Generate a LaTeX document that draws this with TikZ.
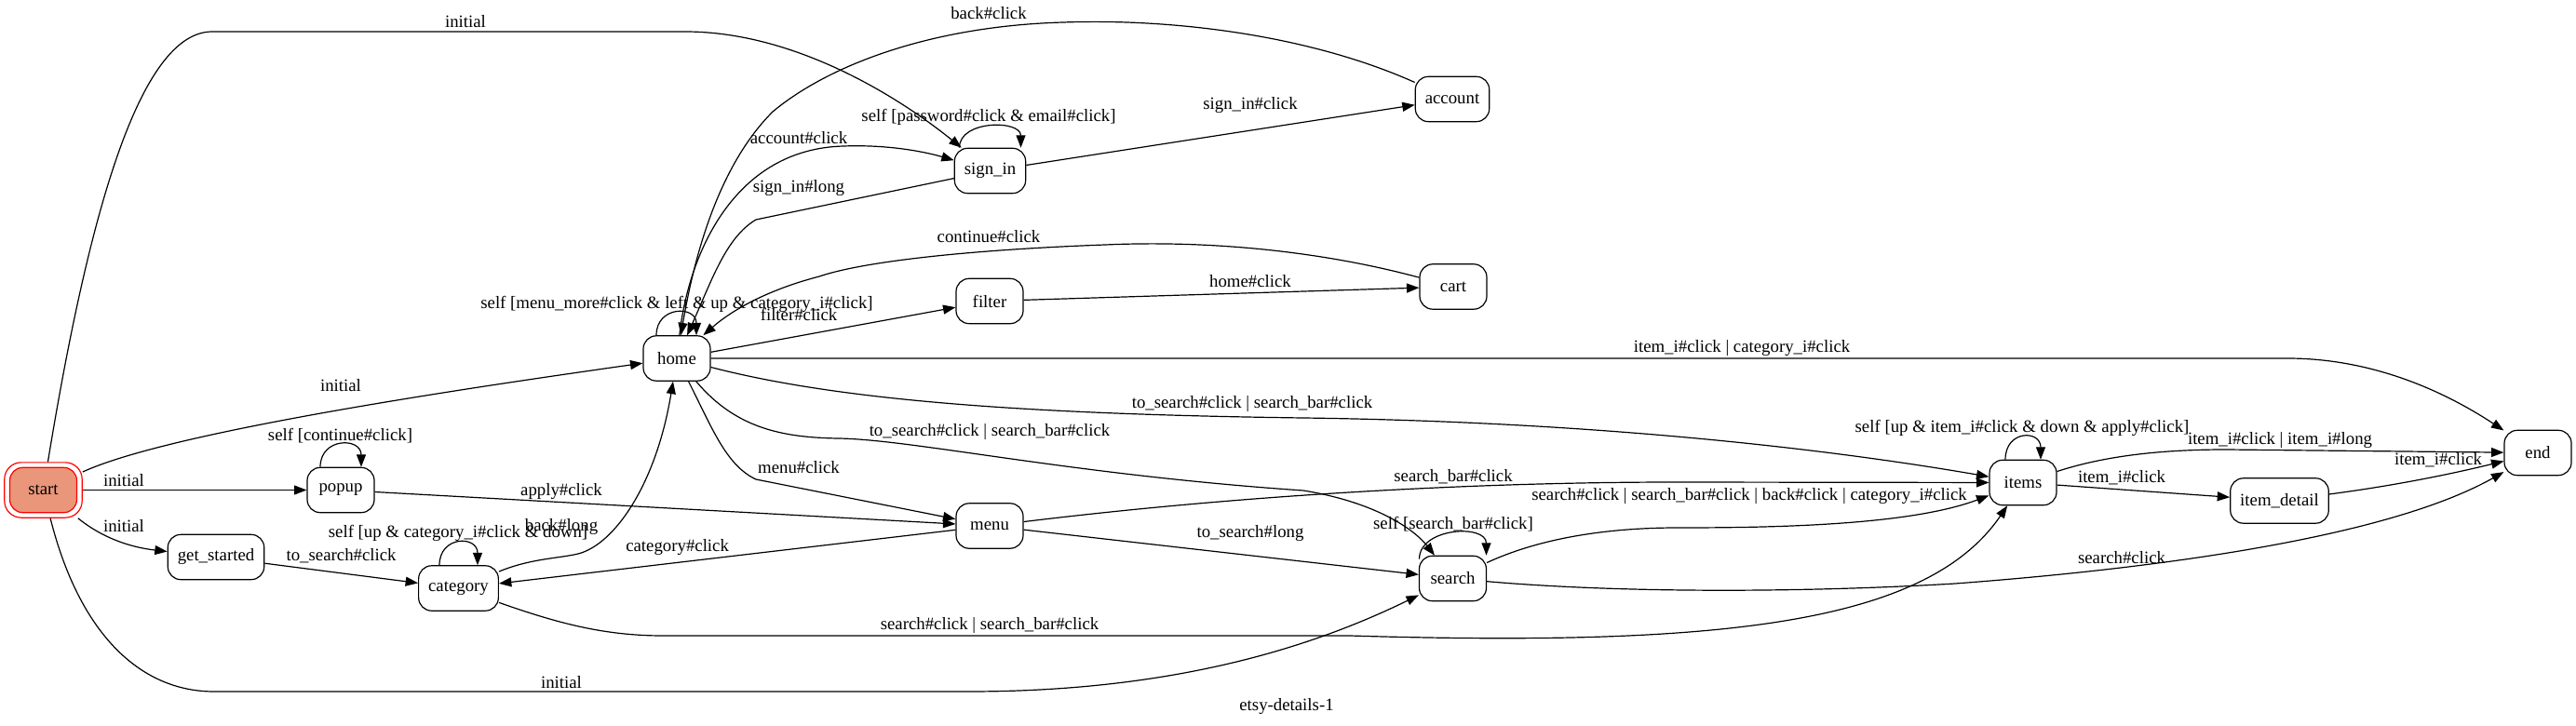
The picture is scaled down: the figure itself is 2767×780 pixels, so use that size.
\documentclass[tikz,border=0pt]{standalone}
\usepackage{fontspec}
\setmainfont{Liberation Serif}
\usetikzlibrary{arrows.meta,calc}
\begin{document}
\begin{tikzpicture}[x={(0.5pt,0)},y={(0,-0.5pt)},
  every node/.style={font=\fontsize{9.4}{11}\selectfont},
  state/.style={draw,line width=0.6pt,rounded corners=7pt,minimum width=36pt,minimum height=24.2pt,inner xsep=5.25pt,inner ysep=2pt},
  lbl/.style={inner sep=0pt},
  arr/.style={line width=0.6pt,-{Triangle[length=6.7pt,width=5pt]}}]
\useasboundingbox (0,0) rectangle (2767,780);
% nodes
\node[draw=red,line width=0.6pt,rounded corners=9pt,minimum width=41.7pt,minimum height=29.65pt] (startouter) at (46.5,526.5) {};
\node[state,draw=red,fill={rgb,255:red,233;green,150;blue,122}] (start) at (46.5,526.5) {start};
\node[state] (popup) at (366,526.5) {popup};
\node[state] (get_started) at (232,598.5) {get\_started};
\node[state] (category) at (492.5,632) {category};
\node[state] (home) at (727,385) {home};
\node[state] (sign_in) at (1063.5,183.5) {sign\_in};
\node[state] (account) at (1560,106.5) {account};
\node[state] (filter) at (1063,323.5) {filter};
\node[state] (cart) at (1561,308) {cart};
\node[state] (menu) at (1063,565) {menu};
\node[state] (search) at (1560.5,621.5) {search};
\node[state] (items) at (2173,518.5) {items};
\node[state] (item_detail) at (2448.5,538) {item\_detail};
\node[state] (end) at (2726,486.5) {end};
% edges from start
\draw[arr] (startouter) .. controls (95,230) and (150,34) .. (228,34) -- (736,34) .. controls (850,34) and (960,100) .. (sign_in);
\draw[arr] (startouter) -- (popup);
\draw[arr] (startouter) .. controls (110,578) and (140,588) .. (get_started);
\draw[arr] (startouter) .. controls (180,465) and (480,420) .. (home);
\draw[arr] (startouter) .. controls (85,680) and (150,743) .. (230,743) -- (1040,743) .. controls (1250,743) and (1400,700) .. (search);
% popup, get_started, category
\draw[arr] ($(popup.north)+(-22,0)$) .. controls +(0,-32) and +(0,-32) .. ($(popup.north)+(22,0)$);
\draw[arr] (popup) -- (menu);
\draw[arr] (get_started) -- (category);
\draw[arr] ($(category.north)+(-20.5,0)$) .. controls +(0,-32) and +(0,-32) .. ($(category.north)+(20.5,0)$);
\draw[arr] (category) .. controls (570,600) and (600,600) .. (621,595) .. controls (660,585) and (705,520) .. (home);
\draw[arr] (category) .. controls (600,670) and (650,683) .. (712,683) -- (1450,683) .. controls (1850,695) and (2070,670) .. (items);
\draw[arr] (menu) -- (category);
% home
\draw[arr] ($(home.north)+(-22,0)$) .. controls +(0,-32) and +(0,-32) .. ($(home.north)+(21,0)$);
\draw[arr] (home) .. controls (740,270) and (790,160) .. (906,157) .. controls (960,155) and (1000,165) .. (sign_in);
\draw[arr] (sign_in) -- (812,236) .. controls (780,255) and (765,300) .. (home);
\draw[arr] (account) .. controls (1400,35) and (1250,20) .. (1142,24) .. controls (1000,28) and (890,70) .. (830,120) .. controls (770,180) and (745,280) .. (home);
\draw[arr] (cart) .. controls (1420,270) and (1300,258) .. (1187,263) .. controls (1050,268) and (930,280) .. (880,297) .. controls (830,310) and (790,330) .. (home);
\draw[arr] (home) -- (filter);
\draw[arr] (filter) -- (cart);
\draw[arr] (sign_in) -- (account);
\draw[arr] ($(sign_in.north)+(-33,0)$) .. controls +(0,-30) and +(0,-30) .. ($(sign_in.north)+(33,0)$);
\draw[arr] (home) -- (2457,385) .. controls (2560,385) and (2640,430) .. (end);
\draw[arr] (home) .. controls (900,430) and (1100,445) .. (1400,449) .. controls (1700,453) and (1950,480) .. (items);
\draw[arr] (home) .. controls (790,460) and (840,470) .. (900,471) .. controls (980,472) and (1150,510) .. (1400,527) .. controls (1480,540) and (1520,570) .. (search);
\draw[arr] (home) .. controls (765,460) and (780,500) .. (812,515) -- (menu);
% menu
\draw[arr] (menu) .. controls (1350,530) and (1600,518) .. (1800,518) -- (items);
\draw[arr] (menu) -- (search);
% search
\draw[arr] ($(search.north)+(-36,4)$) .. controls +(0,-34) and +(0,-34) .. ($(search.north)+(36,0)$);
\draw[arr] (search) .. controls (1650,580) and (1720,567) .. (1802,567) .. controls (1900,567) and (2050,565) .. (items);
\draw[arr] (search) .. controls (1750,638) and (1950,636) .. (2100,627) .. controls (2300,612) and (2560,580) .. (end);
% items
\draw[arr] ($(items.north)+(-19,0)$) .. controls +(0,-32) and +(0,-32) .. ($(items.north)+(19,0)$);
\draw[arr] (items) .. controls (2260,490) and (2320,483) .. (2391,483) -- (end);
\draw[arr] (items) -- (item_detail);
\draw[arr] (item_detail) .. controls (2570,522) and (2630,510) .. (end);
% labels
\node[lbl] (l1) at (500,23) {initial};
\node[lbl] (l2) at (133,516) {initial};
\node[lbl] (l3) at (133,565) {initial};
\node[lbl] (l4) at (366,414) {initial};
\node[lbl] (l5) at (603,733) {initial};
\node[lbl] (l6) at (365.5,468) {self [continue\#click]};
\node[lbl] (l7) at (603,528) {apply\#click};
\node[lbl] (l8) at (366.6,597) {to\_search\#click};
\node[lbl] (l9) at (492,573) {self [up \& category\_i\#click \& down]};
\node[lbl] (l10) at (603,566) {back\#long};
\node[lbl] (l11) at (727.6,588) {category\#click};
\node[lbl] (l12) at (858,502) {menu\#click};
\node[lbl] (l13) at (1063,464) {to\_search\#click | search\_bar\#click};
\node[lbl] (l14) at (1345,434) {to\_search\#click | search\_bar\#click};
\node[lbl] (l15) at (1871,374) {item\_i\#click | category\_i\#click};
\node[lbl] (l16) at (727,327) {self [menu\_more\#click \& left \& up \& category\_i\#click]};
\node[lbl] (l17) at (858,338) {filter\#click};
\node[lbl] (l18) at (1343,302) {home\#click};
\node[lbl] (l19) at (1062,254) {continue\#click};
\node[lbl] (l20) at (1062,126) {self [password\#click \& email\#click]};
\node[lbl] (l21) at (858,148) {account\#click};
\node[lbl] (l22) at (858,202) {sign\_in\#long};
\node[lbl] (l23) at (1062,14) {back\#click};
\node[lbl] (l24) at (1343,113) {sign\_in\#click};
\node[lbl] (l25) at (1561,512) {search\_bar\#click};
\node[lbl] (l26) at (1343,573) {to\_search\#long};
\node[lbl] (l27) at (1561,563) {self [search\_bar\#click]};
\node[lbl] (l28) at (1879,533) {search\#click | search\_bar\#click | back\#click | category\_i\#click};
\node[lbl] (l29) at (1063,672) {search\#click | search\_bar\#click};
\node[lbl] (l30) at (2172,460) {self [up \& item\_i\#click \& down \& apply\#click]};
\node[lbl] (l31) at (2449,473) {item\_i\#click | item\_i\#long};
\node[lbl] (l32) at (2279,513) {item\_i\#click};
\node[lbl] (l33) at (2619,494) {item\_i\#click};
\node[lbl] (l34) at (2279,599) {search\#click};
\node[lbl] (title) at (1382,759) {etsy-details-1};
\end{tikzpicture}
\end{document}
